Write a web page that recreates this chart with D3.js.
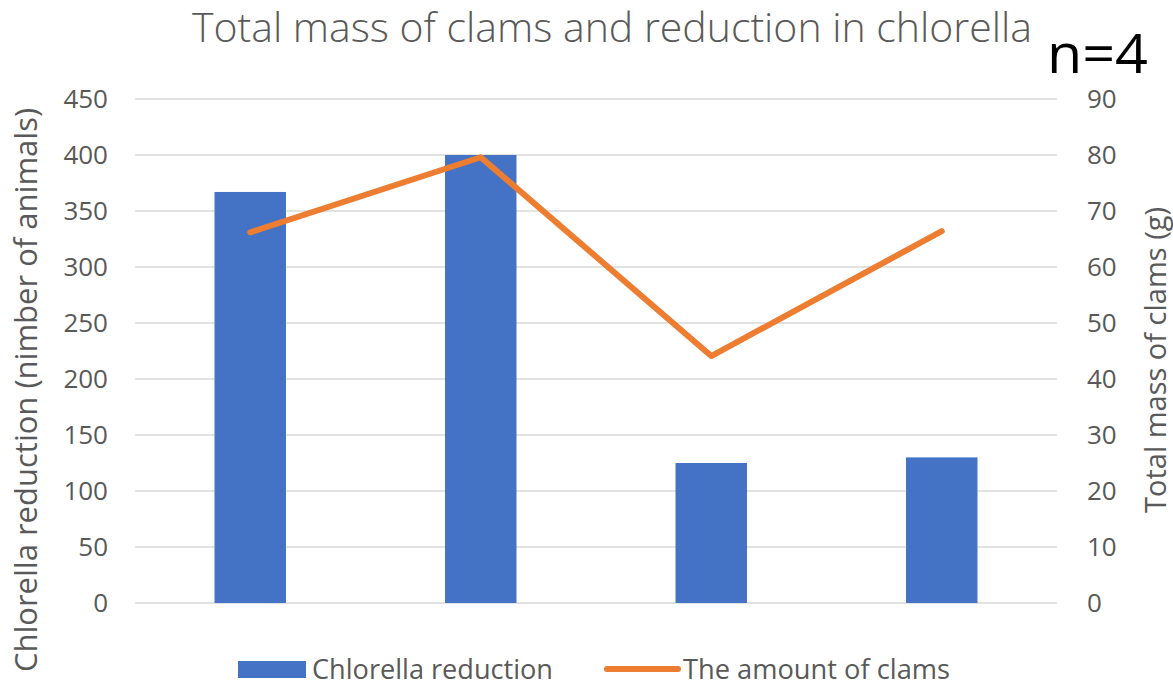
<!DOCTYPE html>
<html>
<head>
<meta charset="utf-8">
<script src="https://cdn.jsdelivr.net/npm/d3@7"></script>
<style>
  body { margin: 0; background: #fff; }
  text { font-family: "Open Sans", sans-serif; fill: #595959; }
</style>
</head>
<body>
<div id="vis-container"></div>
<script>
"use strict";

// Chart data
const categories = ["1", "2", "3", "4"];
const chlorellaReduction = [367, 400, 125, 130];
const clamMass = [66.2, 79.6, 44.1, 66.4];
const leftTicks = [0, 50, 100, 150, 200, 250, 300, 350, 400, 450];
const rightTicks = [0, 10, 20, 30, 40, 50, 60, 70, 80, 90];

function mainIndex()
{
    const width = 1173;
    const height = 686;
    const plot = { left: 135, right: 1057, top: 99, bottom: 603 };

    const svg = d3.select("#vis-container")
        .append("svg")
        .attr("width", width)
        .attr("height", height);

    svg.append("rect")
        .attr("width", width)
        .attr("height", height)
        .attr("fill", "#fff");

    const x = d3.scaleBand()
        .domain(categories)
        .range([plot.left, plot.right])
        .paddingInner(0.69)
        .paddingOuter(0.345);

    const yLeft = d3.scaleLinear().domain([0, 450]).range([plot.bottom, plot.top]);
    const yRight = d3.scaleLinear().domain([0, 90]).range([plot.bottom, plot.top]);

    // Gridlines
    svg.append("g")
        .selectAll("line")
        .data(leftTicks)
        .enter()
        .append("line")
        .attr("x1", plot.left)
        .attr("x2", plot.right)
        .attr("y1", d => yLeft(d))
        .attr("y2", d => yLeft(d))
        .attr("stroke", "#d9d9d9")
        .attr("stroke-width", 1.5);

    // Left axis labels
    const leftAxis = d3.axisLeft(yLeft).tickValues(leftTicks).tickSize(0).tickPadding(27);
    const gl = svg.append("g")
        .attr("transform", `translate(${plot.left},0)`)
        .call(leftAxis);
    gl.select(".domain").remove();
    gl.selectAll("text")
        .style("font-size", "26px")
        .attr("fill", "#595959");

    // Right axis labels
    const rightAxis = d3.axisRight(yRight).tickValues(rightTicks).tickSize(0).tickPadding(30);
    const gr = svg.append("g")
        .attr("transform", `translate(${plot.right},0)`)
        .call(rightAxis);
    gr.select(".domain").remove();
    gr.selectAll("text")
        .style("font-size", "26px")
        .attr("fill", "#595959");

    // Bars
    svg.append("g")
        .selectAll("rect")
        .data(chlorellaReduction)
        .enter()
        .append("rect")
        .attr("x", (d, i) => x(categories[i]))
        .attr("width", x.bandwidth())
        .attr("y", d => yLeft(d))
        .attr("height", d => yLeft(0) - yLeft(d))
        .attr("fill", "#4472c4");

    // Line
    const line = d3.line()
        .x((d, i) => x(categories[i]) + x.bandwidth() / 2)
        .y(d => yRight(d));

    svg.append("path")
        .datum(clamMass)
        .attr("d", line)
        .attr("fill", "none")
        .attr("stroke", "#ed7d31")
        .attr("stroke-width", 6)
        .attr("stroke-linecap", "round")
        .attr("stroke-linejoin", "round");

    // Title
    svg.append("text")
        .attr("x", 612)
        .attr("y", 42)
        .attr("text-anchor", "middle")
        .attr("textLength", 840)
        .attr("lengthAdjust", "spacingAndGlyphs")
        .style("font-weight", 300)
        .style("font-size", "40px")
        .text("Total mass of clams and reduction in chlorella");

    svg.append("text")
        .attr("x", 1047)
        .attr("y", 73)
        .attr("textLength", 101)
        .attr("lengthAdjust", "spacingAndGlyphs")
        .style("font-size", "54px")
        .style("fill", "#000")
        .text("n=4");

    // Axis titles
    svg.append("text")
        .attr("transform", "translate(29,390) rotate(-90)")
        .attr("text-anchor", "middle")
        .attr("dominant-baseline", "middle")
        .style("font-size", "31px")
        .text("Chlorella reduction (nimber of animals)");

    svg.append("text")
        .attr("transform", "translate(1158,360) rotate(-90)")
        .attr("text-anchor", "middle")
        .attr("dominant-baseline", "middle")
        .style("font-size", "29px")
        .text("Total mass of clams (g)");

    // Legend
    const legend = svg.append("g");
    legend.append("rect")
        .attr("x", 238)
        .attr("y", 661)
        .attr("width", 68)
        .attr("height", 17)
        .attr("fill", "#4472c4");
    legend.append("text")
        .attr("x", 312)
        .attr("y", 679)
        .attr("textLength", 241)
        .attr("lengthAdjust", "spacingAndGlyphs")
        .style("font-size", "28px")
        .text("Chlorella reduction");
    legend.append("line")
        .attr("x1", 607)
        .attr("x2", 678)
        .attr("y1", 669)
        .attr("y2", 669)
        .attr("stroke", "#ed7d31")
        .attr("stroke-width", 6)
        .attr("stroke-linecap", "round");
    legend.append("text")
        .attr("x", 683)
        .attr("y", 679)
        .attr("textLength", 267)
        .attr("lengthAdjust", "spacingAndGlyphs")
        .style("font-size", "28px")
        .text("The amount of clams");
}

document.addEventListener("DOMContentLoaded", mainIndex);
</script>
</body>
</html>
